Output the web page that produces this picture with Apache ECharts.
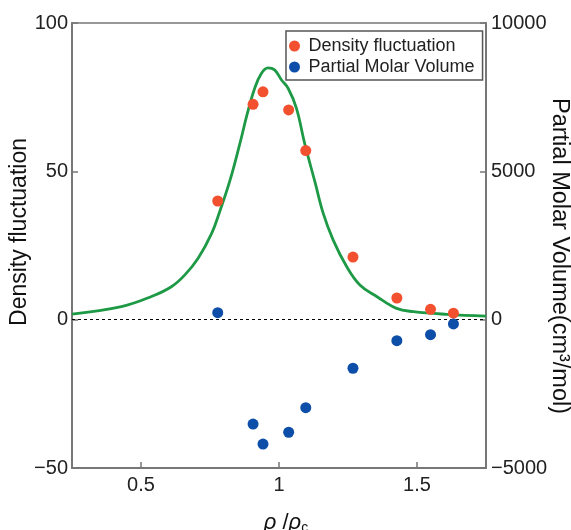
<!DOCTYPE html>
<html>
<head>
<meta charset="utf-8">
<script src="https://cdn.jsdelivr.net/npm/echarts@6/dist/echarts.min.js"></script>
<style>
html,body{margin:0;padding:0;background:#fff;}
#main{width:571px;height:530px;}
</style>
</head>
<body>
<div id="main"></div>
<script>
// Measured points (x = rho/rho_c)
const rhoPoints = [0.778, 0.906, 0.942, 1.035, 1.097, 1.268, 1.427, 1.549, 1.632];
const densityFluctuation = [40.0, 72.6, 76.8, 70.7, 57.0, 21.1, 7.3, 3.5, 2.2];
const partialMolarVolume = [236, -3518, -4192, -3795, -2966, -1638, -708, -506, -145];

// Fitted curve (green)
const fitRho = [0.25, 0.429, 0.538, 0.610, 0.659, 0.707, 0.756, 0.785, 0.821, 0.857, 0.887, 0.912, 0.936, 0.960, 0.984, 1.009, 1.033, 1.063, 1.093, 1.130, 1.160, 1.196, 1.245, 1.293, 1.354, 1.426, 1.487, 1.608, 1.75];
const fitValue = [1.9, 4.4, 7.8, 11.1, 15.1, 20.7, 29.1, 36.4, 46.5, 58.9, 70.1, 78.0, 83.0, 84.9, 84.2, 80.8, 78.0, 71.3, 59.4, 46.5, 35.9, 26.9, 17.9, 11.7, 7.8, 3.8, 2.7, 1.8, 1.2];

// Tick values
const xTicks = [0.5, 1, 1.5];

const FONT = 'Liberation Sans, Arial, Helvetica, sans-serif';
const AXIS = '#777777';
const minus = v => String(v).replace('-', '\u2212');

const chart = echarts.init(document.getElementById('main'), null, {renderer: 'canvas'});
chart.setOption({
  animation: false,
  backgroundColor: '#ffffff',
  textStyle: {fontFamily: FONT},
  grid: {left: 72, top: 23, right: 85, bottom: 62, show: true, borderColor: AXIS, borderWidth: 1.5, containLabel: false},
  legend: {
    data: ['Density fluctuation', 'Partial Molar Volume'],
    orient: 'vertical',
    left: 286, top: 31,
    icon: 'circle',
    itemWidth: 18, itemHeight: 11,
    itemGap: 1,
    padding: [5, 8, 3, 3],
    borderColor: '#555555', borderWidth: 1.5,
    backgroundColor: '#ffffff',
    textStyle: {fontFamily: FONT, fontSize: 18, color: '#222222', lineHeight: 20}
  },
  xAxis: {
    type: 'value', min: 0.25, max: 1.75,
    axisLine: {show: true, onZero: false, lineStyle: {color: AXIS, width: 2}},
    axisTick: {show: true, inside: true, length: 6, customValues: xTicks, lineStyle: {color: AXIS, width: 1.5}},
    axisLabel: {customValues: xTicks, fontFamily: FONT, fontSize: 20, color: '#222222', margin: 7},
    splitLine: {show: false}
  },
  yAxis: [
    {
      type: 'value', min: -50, max: 100, interval: 50, position: 'left',
      axisLine: {show: true, lineStyle: {color: AXIS, width: 2}},
      axisTick: {show: true, inside: true, length: 6, lineStyle: {color: AXIS, width: 1.5}},
      axisLabel: {fontFamily: FONT, fontSize: 20, color: '#222222', margin: 4, formatter: minus},
      splitLine: {show: false}
    },
    {
      type: 'value', min: -5000, max: 10000, interval: 5000, position: 'right',
      axisLine: {show: true, lineStyle: {color: AXIS, width: 2}},
      axisTick: {show: true, inside: true, length: 6, lineStyle: {color: AXIS, width: 1.5}},
      axisLabel: {fontFamily: FONT, fontSize: 20, color: '#222222', margin: 5, formatter: minus},
      splitLine: {show: false}
    }
  ],
  series: [
    {
      name: 'Fit', type: 'line', yAxisIndex: 0, z: 2,
      data: fitRho.map((x, i) => [x, fitValue[i]]),
      smooth: 0.4,
      showSymbol: false, symbol: 'none',
      lineStyle: {color: '#1e9a46', width: 2.8},
      markLine: {
        silent: true, symbol: 'none', label: {show: false},
        lineStyle: {color: '#000000', width: 1, type: [3, 3]},
        data: [{yAxis: 0}]
      }
    },
    {
      name: 'Density fluctuation', type: 'scatter', yAxisIndex: 0, z: 5,
      data: rhoPoints.map((x, i) => [x, densityFluctuation[i]]),
      symbol: 'circle', symbolSize: 11,
      itemStyle: {color: '#f2502e', opacity: 1}
    },
    {
      name: 'Partial Molar Volume', type: 'scatter', yAxisIndex: 1, z: 5,
      data: rhoPoints.map((x, i) => [x, partialMolarVolume[i]]),
      symbol: 'circle', symbolSize: 11,
      itemStyle: {color: '#0d4fa8', opacity: 1}
    }
  ],
  graphic: [
    {type: 'text', x: 20, y: 232, rotation: Math.PI / 2,
     style: {text: 'Density fluctuation', font: '23px ' + FONT, fill: '#111111', textAlign: 'center', textVerticalAlign: 'middle'}},
    {type: 'text', x: 559, y: 256, rotation: -Math.PI / 2,
     style: {text: 'Partial Molar Volume(cm\u00b3/mol)', font: '23.5px ' + FONT, fill: '#111111', textAlign: 'center', textVerticalAlign: 'middle'}},
    {type: 'text', x: 286, y: 523,
     style: {
       text: '{i|\u03c1} /{i|\u03c1}{s|c}',
       textAlign: 'center', textVerticalAlign: 'middle',
       rich: {
         i: {font: 'italic 22px ' + FONT, fill: '#111111'},
         s: {font: '14px ' + FONT, fill: '#111111', padding: [10, 0, 0, 0]}
       },
       font: '22px ' + FONT, fill: '#111111'
     }}
  ]
});
</script>
</body>
</html>
